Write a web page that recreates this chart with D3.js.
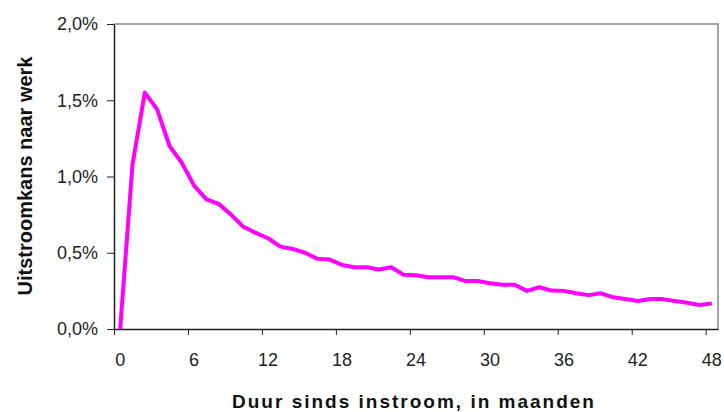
<!DOCTYPE html>
<html>
<head>
<meta charset="utf-8">
<script src="https://cdn.jsdelivr.net/npm/d3@7/dist/d3.min.js"></script>
<style>
	body { margin: 0; background: #fff; }
	text { font-family: "Liberation Sans", Arial, sans-serif; }
</style>
</head>
<body>
<div id="chart"></div>
<script>
// months since inflow (categories 0..48)
var months = d3.range(0, 49);
// outflow probability to work, in percent
var outflow = [
	0.00, 1.08, 1.55, 1.44, 1.20, 1.09, 0.94, 0.85, 0.82, 0.75,
	0.67, 0.63, 0.595, 0.54, 0.525, 0.50, 0.46, 0.455, 0.42, 0.405,
	0.405, 0.39, 0.405, 0.355, 0.352, 0.34, 0.34, 0.34, 0.315, 0.315,
	0.30, 0.29, 0.29, 0.25, 0.274, 0.252, 0.25, 0.234, 0.222, 0.234,
	0.208, 0.197, 0.184, 0.197, 0.196, 0.184, 0.172, 0.157, 0.168
];
var xTicks = [0, 6, 12, 18, 24, 30, 36, 42, 48];
var yTicks = [0, 0.5, 1.0, 1.5, 2.0];
var yTitle = "Uitstroomkans naar werk";
var xTitle = "Duur sinds instroom, in maanden";

var w = 724, h = 412;
var margin = {top: 24, right: 6, bottom: 83, left: 114},
    width = w - margin.left - margin.right,
    height = h - margin.top - margin.bottom;

var svg = d3.select("#chart").append("svg").attr("width", w).attr("height", h),
    g = svg.append("g").attr("transform", "translate(" + margin.left + "," + margin.top + ")");

// category axis: each month gets a slot, point in the middle of it
var x = d3.scaleLinear().domain([0, months.length]).range([0, width]);
var y = d3.scaleLinear().domain([0, 2]).range([height, 0]);

var fmt = function(d){ return d3.format(".1f")(d).replace(".", ",") + "%"; };

// frame top + right
g.append("path")
  .attr("d", "M0,0H" + width + "V" + height)
  .attr("fill", "none")
  .attr("stroke", "#888")
  .attr("stroke-width", 1.5);

var yAxis = g.append("g")
  .call(d3.axisLeft(y).tickValues(yTicks).tickFormat(fmt).tickSizeInner(7).tickSizeOuter(0).tickPadding(9));
yAxis.select(".domain").attr("stroke", "#222").attr("stroke-width", 1.5);
yAxis.selectAll(".tick line").attr("stroke", "#222");
yAxis.selectAll(".tick text")
  .attr("font-size", 18)
  .attr("fill", "#222");

var xAxis = g.append("g")
  .attr("transform", "translate(0," + height + ")")
  .call(d3.axisBottom(x).tickValues(xTicks).tickFormat("").tickSizeInner(6).tickSizeOuter(0));
xAxis.select(".domain").attr("stroke", "#222").attr("stroke-width", 1.5);
xAxis.selectAll(".tick line").attr("stroke", "#222");

// labels sit in the centre of their category
g.append("g").selectAll("text")
  .data(xTicks)
  .enter()
  .append("text")
  .attr("x", function(d){ return x(d + 0.5); })
  .attr("y", height + 37)
  .attr("text-anchor", "middle")
  .attr("font-size", 18)
  .attr("fill", "#222")
  .text(function(d){ return d; });

var line = d3.line()
  .x(function(d, i){ return x(months[i] + 0.5); })
  .y(function(d){ return y(d); });

g.append("path")
  .datum(outflow)
  .attr("fill", "none")
  .attr("stroke", "#ff00ff")
  .attr("stroke-width", 4)
  .attr("stroke-linejoin", "round")
  .attr("stroke-linecap", "butt")
  .attr("d", line);

svg.append("text")
  .attr("transform", "translate(32,176) rotate(-90)")
  .attr("text-anchor", "middle")
  .attr("font-size", 20)
  .attr("font-weight", "bold")
  .attr("fill", "#111")
  .text(yTitle);

svg.append("text")
  .attr("x", 414)
  .attr("y", 408)
  .attr("text-anchor", "middle")
  .attr("font-size", 19)
  .attr("font-weight", "bold")
  .attr("letter-spacing", 2)
  .attr("fill", "#111")
  .text(xTitle);
</script>
</body>
</html>
